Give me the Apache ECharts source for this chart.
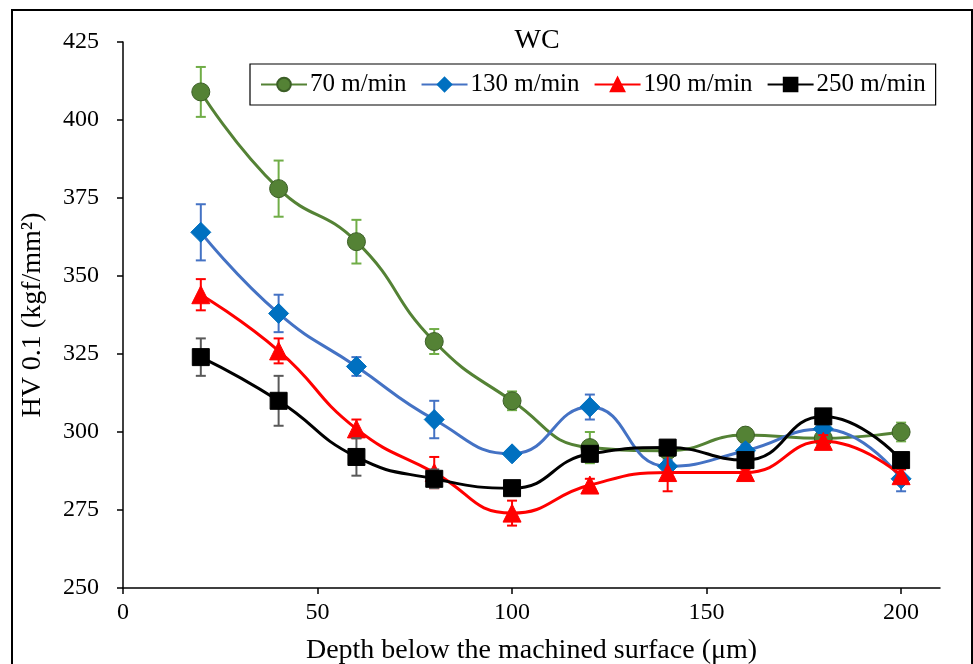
<!DOCTYPE html>
<html>
<head>
<meta charset="utf-8">
<title>WC microhardness profile</title>
<script src="https://cdn.jsdelivr.net/npm/echarts@6/dist/echarts.min.js"></script>
<style>
  html, body { margin: 0; padding: 0; background: #fff; }
  #chart { width: 973px; height: 664px; }
</style>
</head>
<body>
<div id="chart"></div>
<script>
// Depth below the machined surface (µm)
const depth = [20, 40, 60, 80, 100, 120, 140, 160, 180, 200];

// Microhardness HV 0.1 for each cutting speed, with error-bar half widths
const hv70 = [409, 378, 361, 329, 310, 295, 294, 299, 298, 300];
const err70 = [8, 9, 7, 4, 3, 5, 2, 1, 2, 3];
const hv130 = [364, 338, 321, 304, 293, 308, 289, 294, 301, 285];
const err130 = [9, 6, 3, 6, 1, 4, 2, 2, 2, 4];
const hv190 = [344, 326, 301, 287, 274, 283, 287, 287, 297, 286];
const err190 = [5, 4, 3, 5, 4, 2, 6, 1, 2, 2];
const hv250 = [324, 310, 292, 285, 282, 293, 295, 291, 305, 291];
const err250 = [6, 8, 6, 3, 2, 2, 2, 1, 2, 1];

const seriesNames = ['70 m/min', '130 m/min', '190 m/min', '250 m/min'];
const xTicks = [0, 50, 100, 150, 200];
const yTicks = [250, 275, 300, 325, 350, 375, 400, 425];

const FONT = '"Liberation Serif", "Times New Roman", serif';

const styles = [
  { line: '#548235', fill: '#548235', border: '#3b5e26', err: '#70AD47', symbol: 'circle', size: 18 },
  { line: '#4472C4', fill: '#0070C0', border: '#0070C0', err: '#4472C4', symbol: 'diamond', size: 20 },
  { line: '#FF0000', fill: '#FF0000', border: '#FF0000', err: '#FF0000', symbol: 'triangle', size: 18 },
  { line: '#000000', fill: '#000000', border: '#000000', err: '#595959', symbol: 'rect', size: 17 }
];
const values = [hv70, hv130, hv190, hv250];
const errors = [err70, err130, err190, err250];

function errorSeries(idx) {
  const st = styles[idx];
  const data = depth.map((d, i) => [d, values[idx][i] - errors[idx][i], values[idx][i] + errors[idx][i]]);
  return {
    type: 'custom',
    name: seriesNames[idx] + ' error',
    z: 2 + idx * 2,
    silent: true,
    data: data,
    encode: { x: 0, y: [1, 2] },
    renderItem: function (params, api) {
      const x = api.value(0);
      const lo = api.coord([x, api.value(1)]);
      const hi = api.coord([x, api.value(2)]);
      const half = 5;
      const s = { stroke: st.err, lineWidth: 2 };
      return {
        type: 'group',
        children: [
          { type: 'line', shape: { x1: lo[0], y1: lo[1], x2: hi[0], y2: hi[1] }, style: s },
          { type: 'line', shape: { x1: lo[0] - half, y1: lo[1], x2: lo[0] + half, y2: lo[1] }, style: s },
          { type: 'line', shape: { x1: hi[0] - half, y1: hi[1], x2: hi[0] + half, y2: hi[1] }, style: s }
        ]
      };
    }
  };
}

function lineSeries(idx) {
  const st = styles[idx];
  return {
    type: 'line',
    name: seriesNames[idx],
    z: 3 + idx * 2,
    data: depth.map((d, i) => [d, values[idx][i]]),
    smooth: 0.5,
    symbol: st.symbol,
    symbolSize: st.size,
    showAllSymbol: true,
    lineStyle: { color: st.line, width: 3 },
    itemStyle: { color: st.fill, borderColor: st.border, borderWidth: 1 },
    emphasis: { disabled: true }
  };
}

const series = [];
for (let i = 0; i < 4; i++) {
  series.push(errorSeries(i));
  series.push(lineSeries(i));
}

const chart = echarts.init(document.getElementById('chart'), null, { renderer: 'canvas' });
chart.setOption({
  animation: false,
  backgroundColor: '#ffffff',
  textStyle: { fontFamily: FONT },
  title: {
    text: 'WC',
    left: 532,
    top: 22,
    textAlign: 'center',
    textStyle: { fontFamily: FONT, fontSize: 28, fontWeight: 'normal', color: '#000' }
  },
  legend: {
    data: seriesNames,
    left: 250,
    top: 64,
    padding: [8, 10, 8, 10],
    itemGap: 14,
    itemWidth: 46,
    itemHeight: 17,
    borderColor: '#000',
    borderWidth: 1.2,
    textStyle: { fontFamily: FONT, fontSize: 25, color: '#000', padding: [0, 0, 0, -2] }
  },
  grid: { left: 123, right: 33, top: 42, bottom: 76, containLabel: false, outerBoundsMode: 'none' },
  xAxis: {
    type: 'value',
    min: 0,
    max: 210,
    interval: 50,
    name: 'Depth below the machined surface (μm)',
    nameLocation: 'middle',
    nameGap: 49,
    nameTextStyle: { fontFamily: FONT, fontSize: 28, color: '#000' },
    axisLine: { show: true, lineStyle: { color: '#000', width: 1.5 } },
    axisTick: { show: true, length: 6, customValues: xTicks, lineStyle: { color: '#000', width: 1.5 } },
    axisLabel: { customValues: xTicks, margin: 13, fontFamily: FONT, fontSize: 24, color: '#000' },
    splitLine: { show: false }
  },
  yAxis: {
    type: 'value',
    min: 250,
    max: 425,
    interval: 25,
    name: 'HV 0.1 (kgf/mm²)',
    nameLocation: 'middle',
    nameGap: 76,
    nameRotate: 90,
    nameTextStyle: { fontFamily: FONT, fontSize: 28, color: '#000' },
    axisLine: { show: true, lineStyle: { color: '#000', width: 1.5 } },
    axisTick: { show: true, length: 6, inside: false, lineStyle: { color: '#000', width: 1.5 } },
    axisLabel: { margin: 24, fontFamily: FONT, fontSize: 24, color: '#000' },
    splitLine: { show: false }
  },
  graphic: [
    {
      type: 'rect',
      silent: true,
      z: 100,
      shape: { x: 12, y: 10, width: 960, height: 660 },
      style: { fill: 'none', stroke: '#000', lineWidth: 2 }
    }
  ],
  series: series
});
</script>
</body>
</html>
